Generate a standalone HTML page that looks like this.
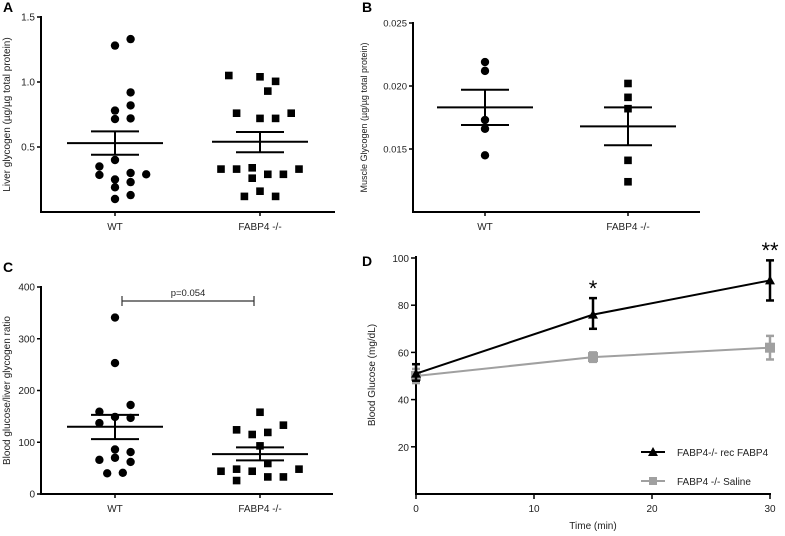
<!DOCTYPE html>
<html><head><meta charset="utf-8">
<style>
html,body{margin:0;padding:0;background:#fff;}
svg{display:block;font-family:"Liberation Sans",Arial,sans-serif;}
</style></head>
<body>
<svg id="fig" width="785" height="536" viewBox="0 0 785 536"></svg>
<script>
// ---- Panel A data ----
const aGroups = ["WT", "FABP4 -/-"];
const aTicks = [0.5, 1.0, 1.5];
const aTickLabels = ["0.5", "1.0", "1.5"];
const aWT = [1.28,1.33,0.92,0.78,0.82,0.715,0.72,0.40,0.35,0.285,0.30,0.29,0.25,0.23,0.19,0.13,0.10];
const aWTJit = [0,1,1,0,1,0,1,0,-1,-1,1,2,0,1,0,1,0];
const aKO = [1.05,1.04,1.005,0.93,0.76,0.72,0.72,0.76,0.33,0.33,0.34,0.33,0.29,0.29,0.26,0.16,0.12,0.12];
const aKOJit = [-2,0,1,0.5,-1.5,0,1,2,-2.5,-1.5,-0.5,2.5,0.5,1.5,-0.5,0,-1,1];
const aMean = [0.53, 0.54];
const aSemLo = [0.44, 0.46];
const aSemHi = [0.62, 0.615];

// ---- Panel B data ----
const bTicks = [0.015, 0.020, 0.025];
const bTickLabels = ["0.015", "0.020", "0.025"];
const bWT = [0.0219,0.0212,0.0173,0.0166,0.0145];
const bKO = [0.0202,0.0191,0.0182,0.0141,0.0124];
const bMean = [0.0183, 0.0168];
const bSemLo = [0.0169, 0.0153];
const bSemHi = [0.0197, 0.0183];

// ---- Panel C data ----
const cTicks = [0,100,200,300,400];
const cTickLabels = ["0","100","200","300","400"];
const cWT = [341,253,159,172,137,149,147,86,81,66,70,62,40,41];
const cWTJit = [0,0,-1,1,-1,0,1,0,1,-1,0,1,-0.5,0.5];
const cKO = [158,124,115,119,133,93,59,44,48,44,33,33,48,26];
const cKOJit = [0,-1.5,-0.5,0.5,1.5,0,0.5,-2.5,-1.5,-0.5,0.5,1.5,2.5,-1.5];
const cMean = [130, 77];
const cSemLo = [106, 65];
const cSemHi = [153, 90];

// ---- Panel D data ----
const dTimes = [0, 15, 30];
const dXTicks = [0,10,20,30];
const dYTicks = [20,40,60,80,100];
const dRec = [51, 76, 90.5];
const dRecLo = [48, 70, 82];
const dRecHi = [55, 83, 99];
const dSal = [50, 58, 62];
const dSalLo = [47, 56, 57];
const dSalHi = [53, 60, 67];

const NS="http://www.w3.org/2000/svg";
const svg=document.getElementById('fig');
function el(tag,attrs,parent){const e=document.createElementNS(NS,tag);for(const k in attrs)e.setAttribute(k,attrs[k]);(parent||svg).appendChild(e);return e;}
function line(x1,y1,x2,y2,c,w,name){const e=el('line',{x1,y1,x2,y2,stroke:c,'stroke-width':w});


return e;}
function text(x,y,s,opt,name){const e=el('text',Object.assign({x,y,'font-size':10,fill:'#222'},opt||{}));e.textContent=s;


return e;}
function dot(x,y,name){const e=el('circle',{cx:x,cy:y,r:4.2,fill:'#000'});

}
function sq(x,y,name,c,s){s=s||7.6;const e=el('rect',{x:x-s/2,y:y-s/2,width:s,height:s,fill:c||'#000'});

}

function scatterPanel(o){
  const ys=v=>o.y0+(v-o.vmin)/(o.vmax-o.vmin)*(o.y1-o.y0);
  line(o.ax,o.y1-1,o.ax,o.y0+1,'#000',2,'y-axis');
  line(o.ax-1,o.y0,o.xend,o.y0,'#000',2,'x-axis');
  o.ticks.forEach((t,i)=>{const y=ys(t);line(o.ax-4,y,o.ax,y,'#000',1.5,'y-tick');
    text(o.ax-6,y+3.5,o.tickLabels[i],{'text-anchor':'end','font-size':o.kfs||10},'y-tick-label');});
  o.gx.forEach((gx,i)=>{line(gx,o.y0,gx,o.y0+4,'#000',1.5,'x-tick');
    text(gx,o.y0+18,aGroups[i],{'text-anchor':'middle'},'x-tick-label');});
  o.wt.forEach((v,i)=>dot(o.gx[0]+(o.wtJ?o.wtJ[i]:0)*15.6,ys(v),'wt-point'));
  o.ko.forEach((v,i)=>sq(o.gx[1]+(o.koJ?o.koJ[i]:0)*15.6,ys(v),'ko-point'));
  [0,1].forEach(i=>{const gx=o.gx[i];
    line(gx-o.mw,ys(o.mean[i]),gx+o.mw,ys(o.mean[i]),'#000',2,'mean-line');
    line(gx-o.sw,ys(o.lo[i]),gx+o.sw,ys(o.lo[i]),'#000',2,'sem-lower');
    line(gx-o.sw,ys(o.hi[i]),gx+o.sw,ys(o.hi[i]),'#000',2,'sem-upper');
    line(gx,ys(o.lo[i]),gx,ys(o.hi[i]),'#000',2,'sem-bar');});
  text(o.titleX,(o.y0+o.y1)/2,o.title,{'text-anchor':'middle','font-size':o.tfs||10,transform:`rotate(-90 ${o.titleX} ${(o.y0+o.y1)/2})`},'y-axis-title');
  return ys;
}
// Panel A
scatterPanel({ax:41,y0:212,y1:17,vmin:0,vmax:1.5,xend:335,gx:[115,260],ticks:aTicks,tickLabels:aTickLabels,
 wt:aWT,wtJ:aWTJit,ko:aKO,koJ:aKOJit,mean:aMean,lo:aSemLo,hi:aSemHi,mw:48,sw:24,titleX:10,title:"Liver glycogen (µg/µg total protein)"});
// Panel B
scatterPanel({ax:413,y0:212,y1:23,vmin:0.010,vmax:0.025,xend:700,gx:[485,628],ticks:bTicks,tickLabels:bTickLabels,
 wt:bWT,ko:bKO,mean:bMean,lo:bSemLo,hi:bSemHi,mw:48,sw:24,titleX:367,tfs:9,kfs:9.5,title:"Muscle Glycogen (µg/µg total protein)"});
// Panel C
scatterPanel({ax:41,y0:494,y1:287,vmin:0,vmax:400,xend:333,gx:[115,260],ticks:cTicks,tickLabels:cTickLabels,
 wt:cWT,wtJ:cWTJit,ko:cKO,koJ:cKOJit,mean:cMean,lo:cSemLo,hi:cSemHi,mw:48,sw:24,titleX:10,title:"Blood glucose/liver glycogen ratio"});
line(122,301,254,301,'#333',1.2,'significance-bracket');
line(122,296,122,306,'#333',1.2,'bracket-left');
line(254,296,254,306,'#333',1.2,'bracket-right');
text(188,296,"p=0.054",{'text-anchor':'middle','font-size':9.5},'p-value-label');

// Panel D
const dx=t=>416+t/30*354;
const dy=v=>494-v*2.36;
line(416,256,416,495,'#000',2,'y-axis');
line(415,494,771,494,'#000',2,'x-axis');
dYTicks.forEach(t=>{line(411,dy(t),416,dy(t),'#000',1.5,'y-tick');text(409,dy(t)+4,String(t),{'text-anchor':'end','font-size':10},'y-tick-label');});
dXTicks.forEach(t=>{line(dx(t),494,dx(t),499,'#000',1.5,'x-tick');text(dx(t),512,String(t),{'text-anchor':'middle','font-size':10},'x-tick-label');});
text(593,529,"Time (min)",{'text-anchor':'middle','font-size':10},'x-axis-title');
text(375,375,"Blood Glucose  (mg/dL)",{'text-anchor':'middle','font-size':10,transform:'rotate(-90 375 375)'},'y-axis-title');
function series(vals,lo,hi,c,marker,name){
  const pts=dTimes.map((t,i)=>dx(t)+','+dy(vals[i])).join(' ');
  const p=el('polyline',{points:pts,fill:'none',stroke:c,'stroke-width':2});
  
  
  dTimes.forEach((t,i)=>{const x=dx(t);
    line(x,dy(lo[i]),x,dy(hi[i]),c,2.5,name+'-error-bar');
    line(x-4,dy(lo[i]),x+4,dy(lo[i]),c,2.5,name+'-error-cap');
    line(x-4,dy(hi[i]),x+4,dy(hi[i]),c,2.5,name+'-error-cap');
    marker(x,dy(vals[i]));});
}
function tri(x,y){const e=el('polygon',{points:`${x},${y-5} ${x-5},${y+4} ${x+5},${y+4}`,fill:'#000'});

}
series(dSal,dSalLo,dSalHi,'#a0a0a0',(x,y)=>sq(x,y,'saline-point','#a0a0a0',10),'saline');
series(dRec,dRecLo,dRecHi,'#000',tri,'rec');
text(dx(15),296,"*",{'text-anchor':'middle','font-size':22,fill:'#000'},'significance-star');
text(dx(30),258,"**",{'text-anchor':'middle','font-size':22,fill:'#000'},'significance-stars');
// Legend
line(641,452,665,452,'#000',2,'legend-rec-line');tri(653,452);
text(677,456,"FABP4-/-  rec FABP4",{'font-size':10},'legend-rec-label');
line(641,481,665,481,'#a0a0a0',2,'legend-saline-line');sq(653,481,'legend-saline-marker','#a0a0a0',8);
text(677,485,"FABP4 -/- Saline",{'font-size':10},'legend-saline-label');

// Panel letters
[["A",3,12],["B",362,12],["C",3,272],["D",362,266]].forEach(p=>text(p[1],p[2],p[0],{'font-size':14,'font-weight':'bold',fill:'#000'},'panel-label-'+p[0].toLowerCase()));
</script>
</body></html>
